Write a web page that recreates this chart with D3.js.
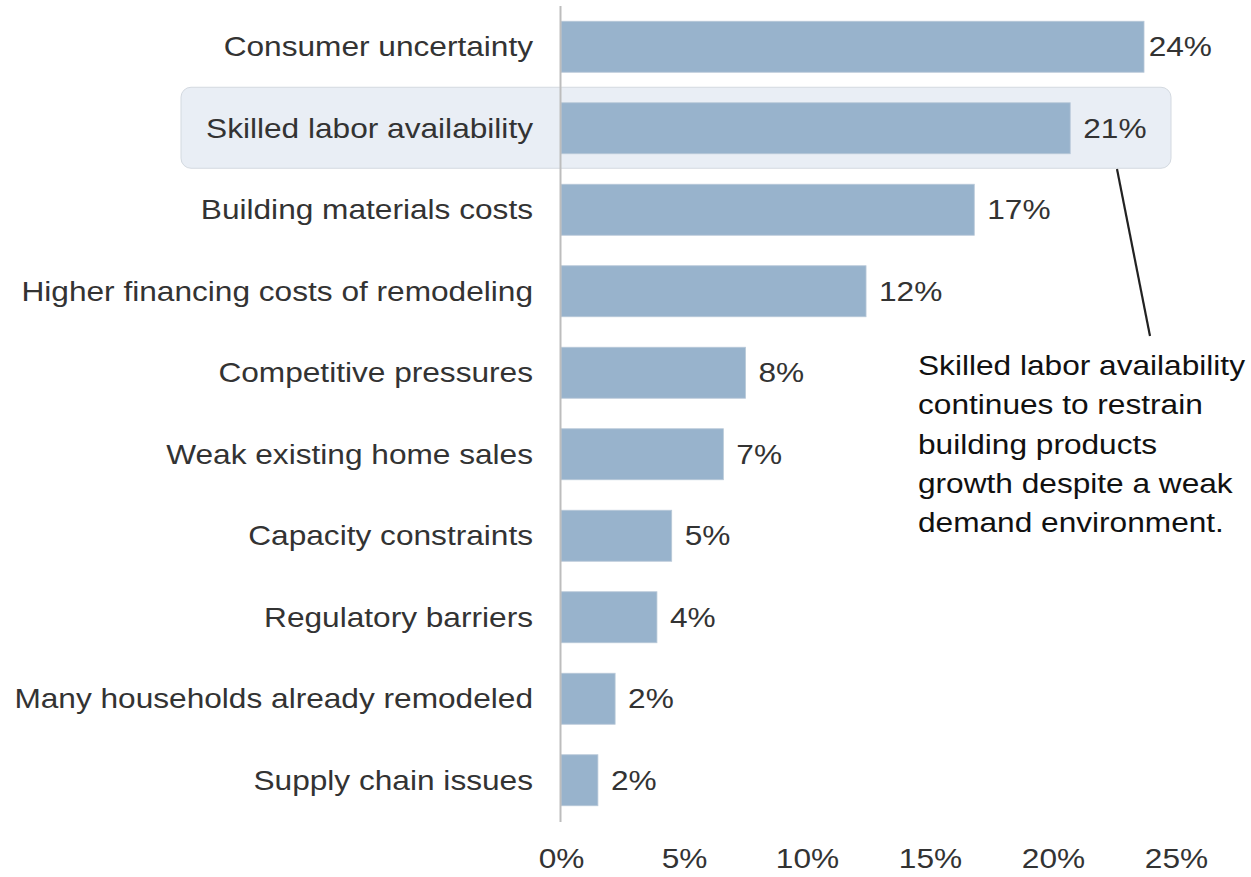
<!DOCTYPE html>
<html>
<head>
<meta charset="utf-8">
<script src="https://cdn.jsdelivr.net/npm/d3@7"></script>
<style>
  html, body { margin: 0; padding: 0; background: #fff; }
  svg { display: block; font-family: "Liberation Sans", Arial, sans-serif; }
</style>
</head>
<body>
<svg id="chart" width="1251" height="877"></svg>
<script>
// Share of respondents naming each factor as a constraint on remodeling
const categories = [
  "Consumer uncertainty",
  "Skilled labor availability",
  "Building materials costs",
  "Higher financing costs of remodeling",
  "Competitive pressures",
  "Weak existing home sales",
  "Capacity constraints",
  "Regulatory barriers",
  "Many households already remodeled",
  "Supply chain issues"
];
const shares = [23.7, 20.7, 16.8, 12.4, 7.5, 6.6, 4.5, 3.9, 2.2, 1.5];
const tickValues = [0, 5, 10, 15, 20, 25];
const highlighted = "Skilled labor availability";
const noteLines = [
  "Skilled labor availability",
  "continues to restrain",
  "building products",
  "growth despite a weak",
  "demand environment."
];

const svg = d3.select("#chart");
const fontSize = 27.5;
const widen = 1.15; // slightly extended letterforms

// Stretch each text run horizontally by a fixed factor
function stretch(sel) {
  sel.each(function() {
    const w = this.getComputedTextLength();
    d3.select(this)
      .attr("textLength", w * widen)
      .attr("lengthAdjust", "spacingAndGlyphs");
  });
}

const x = d3.scaleLinear().domain([0, 25]).range([561, 1176]);
const y = d3.scaleBand().domain(categories).range([6, 821]).paddingInner(0.374).paddingOuter(0.187);

const pct = v => Math.round(v) + "%";

// Highlight panel behind the emphasised row
const hy = y(highlighted) + y.bandwidth() / 2;
svg.append("rect")
  .attr("x", 181).attr("y", hy - 41)
  .attr("width", 990).attr("height", 81)
  .attr("rx", 10).attr("ry", 10)
  .attr("fill", "#e9eef5")
  .attr("stroke", "#d3d9e0")
  .attr("stroke-width", 1);

// Bars
svg.append("g").selectAll("rect")
  .data(categories)
  .join("rect")
  .attr("x", x(0))
  .attr("y", d => y(d))
  .attr("width", (d, i) => x(shares[i]) - x(0))
  .attr("height", y.bandwidth())
  .attr("fill", "#98b3cc")
  .attr("stroke", "#b9c9d8")
  .attr("stroke-width", 0.8);

// Vertical baseline at zero
svg.append("line")
  .attr("x1", x(0) - 0.5).attr("x2", x(0) - 0.5)
  .attr("y1", 6).attr("y2", 822)
  .attr("stroke", "#bdbdbd")
  .attr("stroke-width", 2);

// Category labels
const yAxis = d3.axisLeft(y).tickSize(0).tickPadding(0);
const yg = svg.append("g").attr("transform", `translate(533,0)`).call(yAxis);
yg.select(".domain").remove();
yg.selectAll("text")
  .attr("font-size", fontSize)
  .attr("font-family", "Liberation Sans, Arial, sans-serif")
  .attr("fill", "#333")
  .attr("dy", "0.34em")
  .call(stretch);

// Value labels: sit just past the bar end, kept inside the right margin
const labelRight = 1212;
svg.append("g").selectAll("text")
  .data(categories)
  .join("text")
  .attr("font-size", fontSize)
  .attr("fill", "#333")
  .attr("y", d => y(d) + y.bandwidth() / 2)
  .attr("dy", "0.34em")
  .text((d, i) => pct(shares[i]))
  .each(function(d, i) {
    const w = this.getComputedTextLength() * widen;
    const tx = Math.min(x(shares[i]) + 13, labelRight - w);
    d3.select(this).attr("x", tx);
  })
  .call(stretch);

// Bottom axis tick labels
const xAxis = d3.axisBottom(x).tickValues(tickValues).tickFormat(d => d + "%").tickSize(0).tickPadding(0);
const xg = svg.append("g").attr("transform", "translate(0,868)").call(xAxis);
xg.select(".domain").remove();
xg.selectAll("text")
  .attr("font-size", fontSize)
  .attr("font-family", "Liberation Sans, Arial, sans-serif")
  .attr("fill", "#333")
  .attr("y", 0)
  .attr("dy", 0)
  .call(stretch);

// Callout connector and note
svg.append("line")
  .attr("x1", 1117).attr("y1", 169)
  .attr("x2", 1150).attr("y2", 336)
  .attr("stroke", "#222")
  .attr("stroke-width", 2.2);

svg.append("g").selectAll("text")
  .data(noteLines)
  .join("text")
  .attr("x", 918)
  .attr("y", (d, i) => 375 + i * 39.3)
  .attr("font-size", fontSize)
  .attr("fill", "#111")
  .text(d => d)
  .call(stretch);
</script>
</body>
</html>
